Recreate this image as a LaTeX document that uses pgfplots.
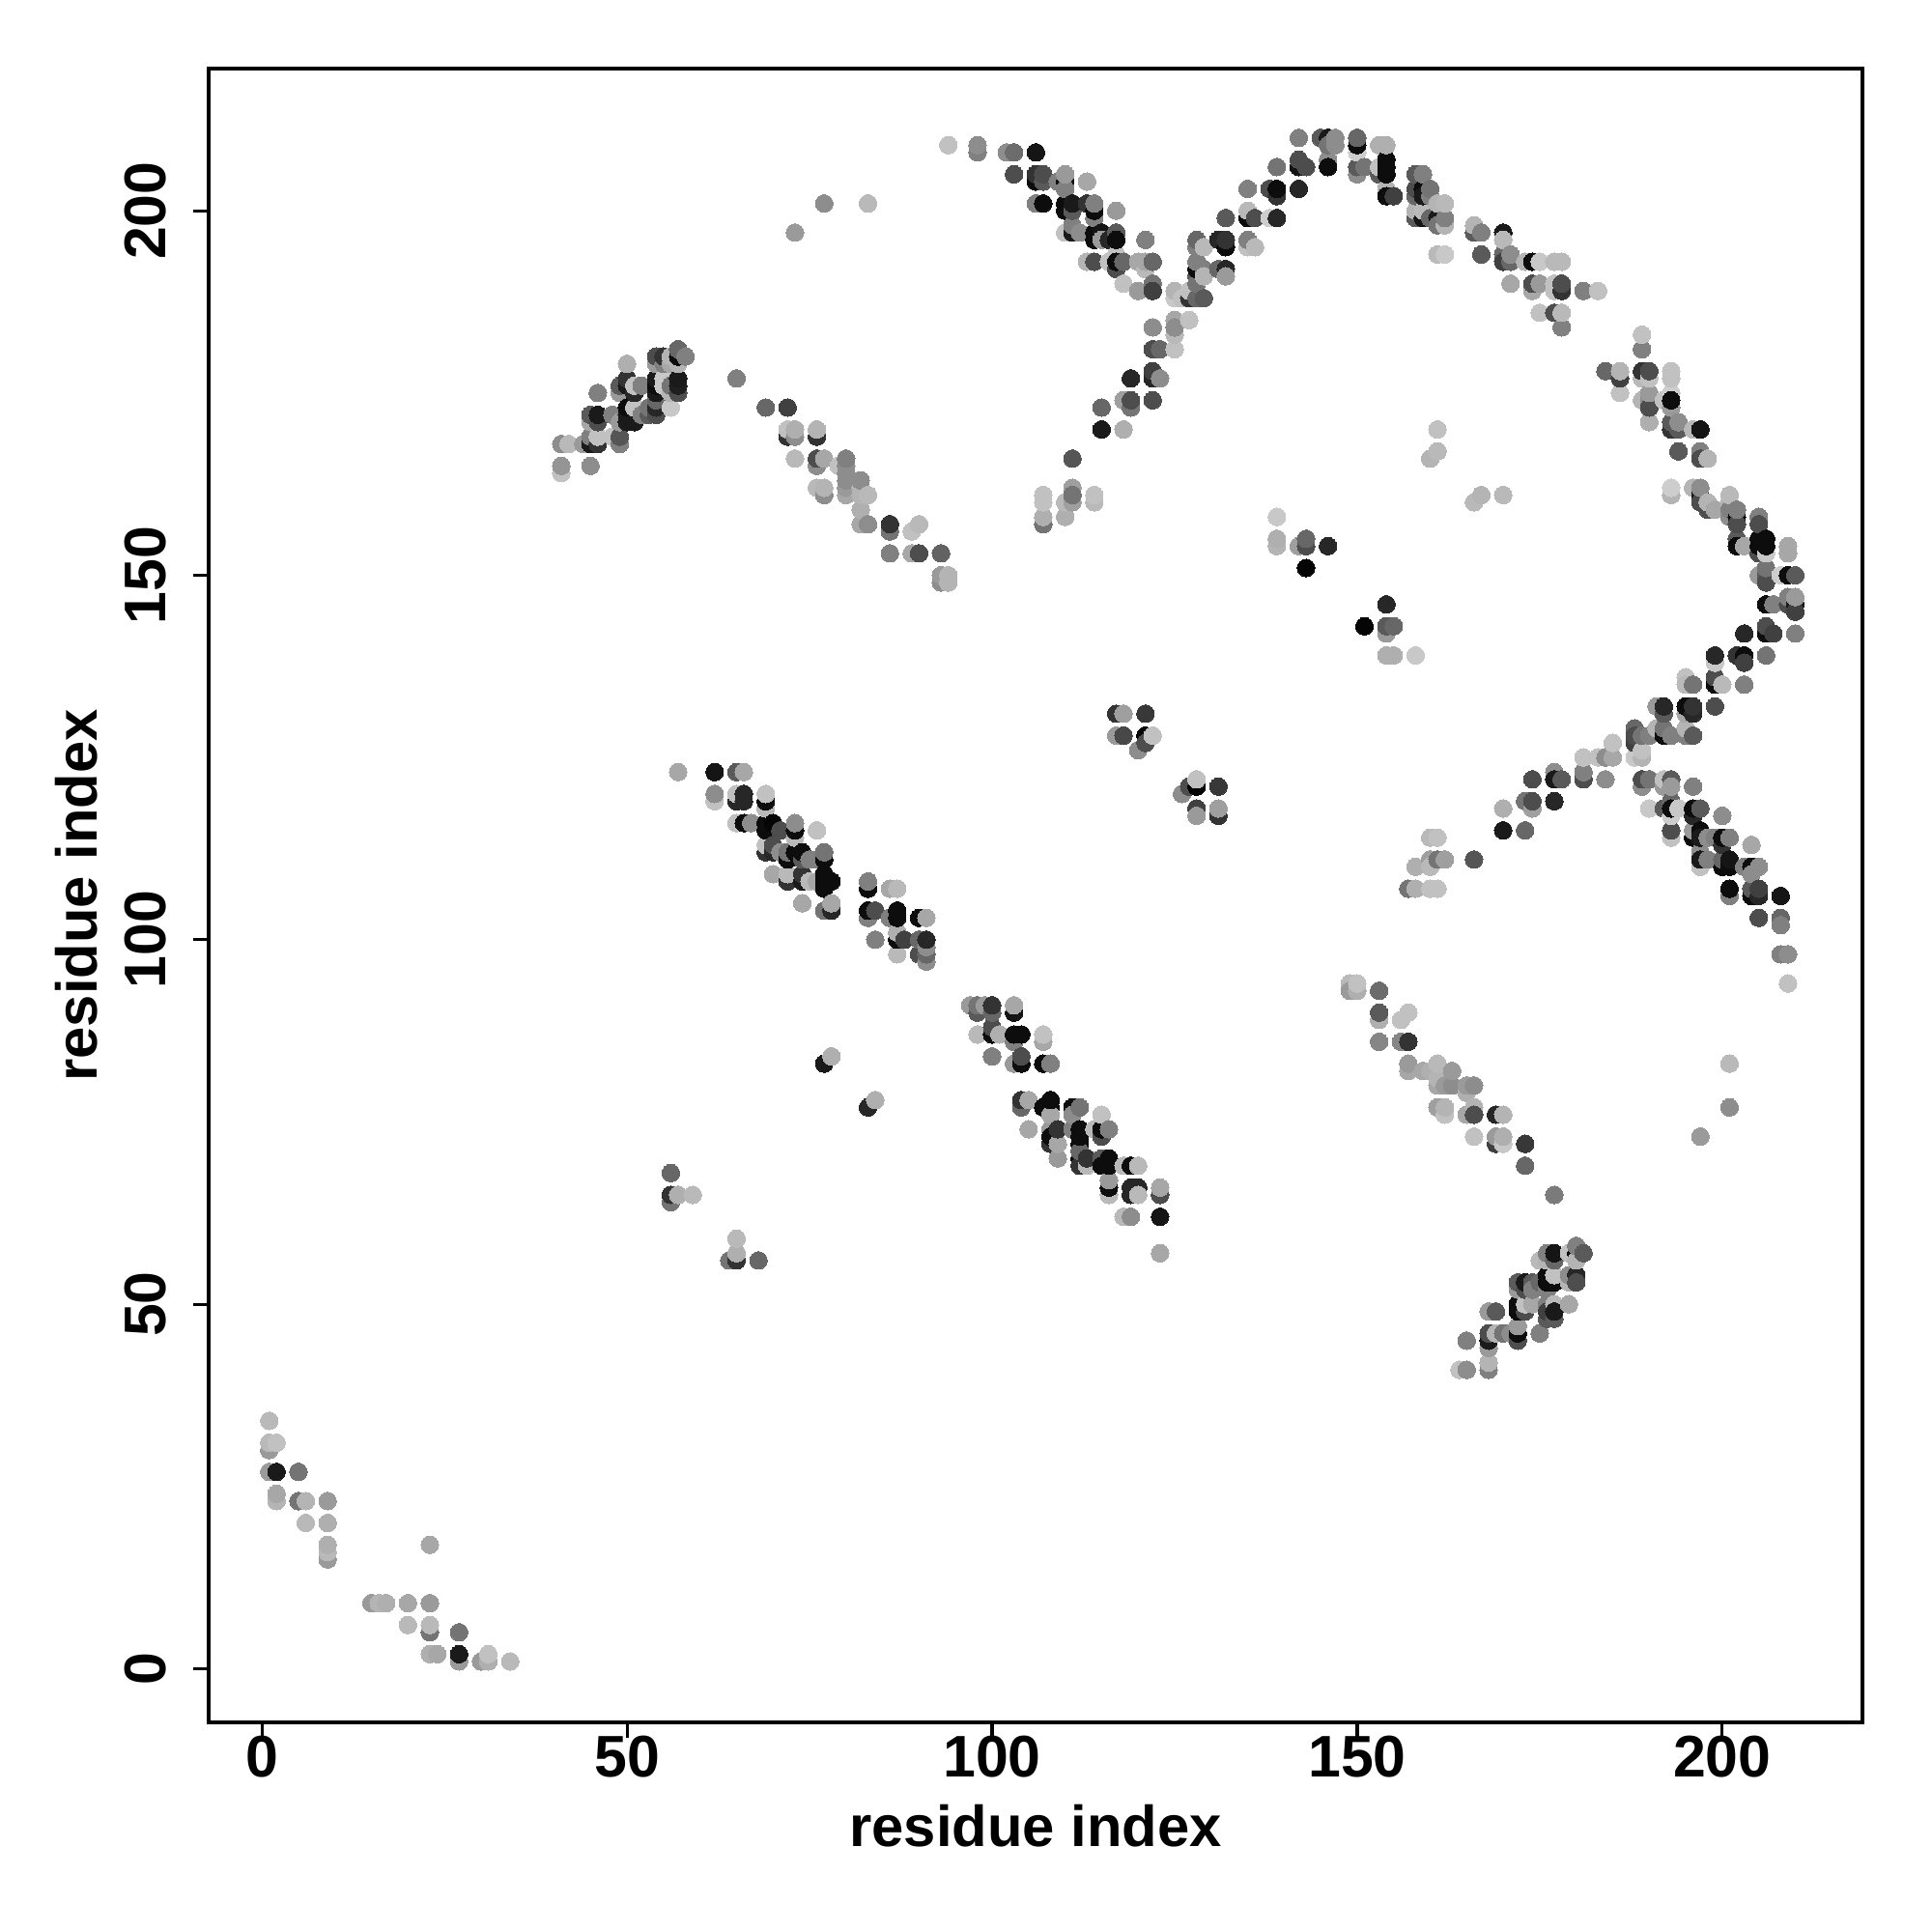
\documentclass[border=0pt]{standalone}
\usepackage{fontspec}
\setmainfont{Liberation Sans}
\usepackage{pgfplots}
\usepackage{pgfplotstable}
\pgfplotsset{compat=1.18}
\pgfplotstableread[row sep=crcr]{
x y g\\
1 34 .72\\ 1 31 .72\\ 2 31 .75\\ 1 30 .6\\ 1 27 .6\\ 2 27 .1\\ 5 27 .45\\ 2 23 .7\\ 2 24 .65\\ 5 23 .45\\ 6 23 .7\\ 9 23 .6\\
6 20 .72\\ 9 20 .68\\ 9 17 .68\\ 9 16 .72\\ 9 15 .6\\ 23 17 .65\\ 15 9 .6\\ 16 9 .7\\ 17 9 .68\\ 20 9 .65\\ 23 9 .6\\
20 6 .72\\ 23 6 .72\\ 23 5 .45\\ 27 5 .45\\ 23 2 .68\\ 24 2 .65\\ 27 2 .1\\ 27 1 .6\\ 30 1 .6\\ 31 1 .68\\ 31 2 .75\\ 34 1 .72\\
41 164 .75\\ 41 165 .58\\ 45 165 .55\\ 41 168 .55\\ 42 168 .72\\ 44 168 .6\\ 45 168 .1\\ 46 168 .2\\ 49 168 .5\\
45 169 .5\\ 46 169 .75\\ 48 169 .75\\ 49 169 .33\\
45 172 .35\\ 46 172 .1\\ 48 172 .5\\ 50 172 .1\\ 52 172 .5\\ 53 172 .35\\ 54 172 .3\\
45 171 .65\\ 46 171 .3\\ 49 171 .6\\ 50 171 .1\\ 51 171 .1\\
50 173 .05\\ 51 173 .75\\ 53 173 .45\\ 54 173 .15\\ 56 173 .78\\ 54 174 .4\\
46 175 .5\\ 49 175 .6\\ 51 175 .15\\ 54 175 .1\\ 56 175 .7\\ 57 175 .3\\
49 176 .35\\ 50 176 .1\\ 51 176 .75\\ 52 176 .5\\ 54 176 .05\\ 55 176 .78\\ 56 176 .45\\ 57 176 .12\\
50 177 .2\\ 54 177 .1\\ 55 177 .78\\ 57 177 .1\\
50 179 .68\\ 54 179 .6\\ 55 179 .5\\ 56 179 .65\\ 57 179 .7\\
54 180 .3\\ 55 180 .2\\ 56 180 .7\\ 57 180 .05\\ 58 180 .5\\ 57 181 .4\\
65 177 .5\\ 69 173 .4\\ 72 173 .25\\ 72 170 .75\\ 73 170 .68\\ 76 170 .7\\ 72 169 .2\\ 73 169 .55\\ 76 169 .2\\
73 166 .72\\ 76 166 .3\\ 77 166 .65\\ 80 166 .5\\ 76 165 .55\\ 79 165 .75\\ 80 165 .55\\ 80 164 .55\\ 80 163 .55\\ 82 163 .55\\
76 162 .72\\ 77 162 .7\\ 80 162 .6\\ 82 162 .7\\ 77 161 .55\\ 80 161 .65\\ 82 161 .7\\ 83 161 .72\\ 82 159 .68\\
82 157 .65\\ 83 157 .55\\ 86 157 .2\\ 90 157 .72\\ 86 156 .45\\ 89 156 .75\\ 86 153 .5\\ 89 153 .65\\ 90 153 .3\\ 93 153 .38\\
93 150 .6\\ 94 150 .7\\ 93 149 .55\\ 94 149 .7\\
57 123 .65\\ 62 123 .08\\ 65 123 .35\\ 66 123 .65\\ 62 120 .55\\ 62 119 .75\\ 65 120 .75\\ 65 119 .15\\ 66 120 .15\\ 66 119 .15\\
69 120 .75\\ 69 119 .05\\ 69 118 .72\\ 65 116 .75\\ 66 116 .05\\ 67 116 .55\\ 69 116 .05\\ 69 115 .05\\ 70 116 .02\\ 71 115 .3\\
73 116 .55\\ 73 115 .05\\ 73 114 .72\\ 76 115 .75\\ 69 113 .75\\ 69 112 .2\\ 70 113 .3\\ 70 112 .15\\ 71 112 .55\\ 72 112 .45\\
72 111 .05\\ 73 112 .05\\ 74 112 .05\\ 74 111 .35\\ 75 111 .5\\ 76 111 .5\\ 77 112 .45\\ 77 111 .05\\ 70 109 .65\\
72 109 .72\\ 72 108 .2\\ 74 109 .2\\ 74 108 .1\\ 75 108 .72\\ 76 108 .65\\ 77 109 .05\\ 77 108 .05\\ 78 108 .05\\ 77 107 .05\\
74 105 .65\\ 77 104 .45\\ 78 104 .15\\ 78 105 .65\\ 83 107 .05\\ 83 108 .5\\ 86 107 .65\\ 87 107 .72\\
83 104 .05\\ 84 104 .3\\ 83 103 .5\\ 86 103 .5\\ 87 104 .05\\ 87 103 .05\\ 90 103 .05\\ 91 103 .65\\
84 100 .5\\ 87 101 .68\\ 87 100 .05\\ 88 100 .25\\ 90 100 .4\\ 91 100 .15\\ 91 99 .55\\ 90 98 .3\\ 91 98 .4\\ 91 97 .55\\ 87 98 .72\\
97 91 .6\\ 98 91 .45\\ 99 91 .6\\ 100 91 .2\\ 103 91 .65\\ 98 90 .35\\ 100 90 .4\\ 103 90 .08\\ 98 87 .72\\ 100 88 .3\\ 100 87 .05\\
101 87 .68\\ 103 87 .05\\ 104 87 .05\\ 103 86 .5\\ 107 87 .75\\ 107 86 .65\\ 100 84 .5\\ 103 83 .6\\ 104 83 .05\\ 104 84 .3\\
107 83 .05\\ 108 83 .5\\ 104 78 .2\\ 104 77 .4\\ 105 78 .65\\ 107 77 .05\\ 108 78 .05\\ 108 77 .05\\ 108 76 .65\\ 111 77 .05\\
112 77 .45\\ 111 76 .55\\ 115 76 .75\\ 105 74 .65\\ 108 74 .6\\ 108 73 .05\\ 108 72 .2\\ 109 74 .2\\ 109 72 .65\\ 111 74 .5\\
112 74 .05\\ 112 73 .05\\ 112 72 .05\\ 114 74 .72\\ 115 74 .05\\ 116 74 .5\\ 115 73 .3\\ 109 70 .6\\ 112 71 .4\\ 112 70 .05\\
112 69 .2\\ 113 70 .2\\ 113 69 .72\\ 115 70 .35\\ 115 69 .05\\ 116 70 .05\\ 116 69 .05\\ 118 69 .72\\ 119 69 .05\\ 120 69 .72\\
116 67 .6\\ 116 66 .05\\ 116 65 .72\\ 119 66 .15\\ 119 65 .15\\ 120 66 .15\\ 120 65 .72\\ 123 66 .65\\ 123 65 .3\\
118 62 .72\\ 119 62 .55\\ 123 62 .08\\ 123 57 .65\\
94 209 .75\\ 98 208 .5\\ 98 209 .55\\ 102 208 .55\\ 103 208 .42\\ 106 208 .08\\ 103 205 .3\\ 106 205 .2\\ 106 204 .05\\ 107 205 .3\\ 107 204 .35\\
109 204 .5\\ 110 205 .6\\ 110 204 .05\\ 110 203 .5\\ 113 204 .65\\ 106 201 .5\\ 107 201 .05\\ 110 201 .05\\ 110 200 .05\\ 111 201 .1\\ 111 200 .35\\
113 201 .2\\ 114 201 .5\\ 114 200 .05\\ 114 199 .5\\ 117 200 .6\\ 110 197 .75\\ 111 198 .5\\ 111 197 .1\\ 112 197 .55\\
114 197 .05\\ 114 196 .05\\ 115 197 .08\\ 115 196 .6\\ 116 196 .15\\ 117 197 .35\\ 117 196 .05\\ 121 196 .5\\
113 193 .7\\ 114 193 .3\\ 116 193 .75\\ 117 194 .75\\ 117 193 .05\\ 117 192 .3\\ 118 193 .4\\ 120 193 .65\\ 121 193 .65\\ 121 192 .72\\ 122 193 .4\\
118 190 .75\\ 120 189 .6\\ 122 190 .45\\ 122 189 .25\\ 125 189 .7\\ 125 188 .78\\ 126 188 .75\\
128 196 .4\\ 128 195 .5\\ 129 195 .72\\ 131 196 .15\\ 132 196 .2\\ 132 195 .05\\ 132 199 .35\\
128 193 .5\\ 128 192 .05\\ 129 192 .5\\ 129 191 .7\\ 128 191 .35\\ 128 190 .45\\ 131 192 .4\\ 132 192 .15\\ 132 191 .6\\
127 188 .2\\ 128 188 .4\\ 129 188 .35\\ 127 189 .75\\ 122 184 .55\\ 125 185 .65\\ 125 184 .55\\ 127 185 .75\\ 125 183 .72\\ 122 181 .3\\ 123 181 .4\\ 125 181 .75\\
119 177 .15\\ 122 178 .25\\ 122 177 .15\\ 123 177 .55\\ 118 174 .62\\ 119 174 .3\\ 122 174 .3\\ 119 173 .45\\ 115 173 .4\\ 115 170 .1\\ 118 170 .68\\ 111 166 .33\\
107 161 .75\\ 107 160 .75\\ 107 158 .68\\ 107 157 .45\\ 110 160 .72\\ 110 158 .68\\ 111 162 .62\\ 111 161 .45\\ 111 160 .62\\ 114 161 .75\\ 114 160 .72\\
142 210 .5\\ 145 210 .35\\ 146 210 .1\\ 147 210 .55\\ 146 209 .45\\ 147 209 .55\\ 150 210 .4\\ 150 209 .05\\ 150 208 .8\\ 153 209 .68\\ 154 209 .68\\
142 207 .3\\ 142 206 .08\\ 143 206 .3\\ 146 207 .55\\ 146 206 .05\\ 139 206 .45\\ 150 206 .35\\ 150 205 .55\\ 151 206 .45\\ 153 206 .75\\ 154 207 .05\\ 154 206 .05\\ 154 205 .05\\ 153 205 .35\\
158 205 .35\\ 159 205 .5\\ 135 203 .5\\ 138 203 .3\\ 139 203 .05\\ 139 202 .2\\ 142 203 .15\\ 154 203 .7\\ 154 202 .05\\ 155 202 .25\\ 158 203 .3\\ 158 202 .4\\
159 203 .05\\ 159 202 .1\\ 160 203 .45\\ 160 202 .5\\ 161 201 .7\\ 162 201 .72\\ 135 200 .72\\ 135 199 .05\\ 136 199 .3\\ 138 199 .8\\ 139 199 .15\\
158 199 .35\\ 158 200 .7\\ 159 199 .08\\ 160 199 .4\\ 159 200 .72\\ 161 199 .1\\ 161 198 .45\\ 162 199 .5\\ 162 198 .7\\ 166 198 .7\\ 166 197 .35\\ 167 197 .5\\
170 197 .1\\ 170 196 .72\\ 135 196 .5\\ 135 195 .75\\ 136 195 .72\\ 161 194 .72\\ 162 194 .78\\ 167 194 .35\\ 170 194 .4\\ 170 193 .25\\ 171 194 .55\\ 171 193 .4\\
173 193 .7\\ 174 193 .05\\ 175 193 .78\\ 177 193 .72\\ 178 193 .72\\ 171 190 .65\\ 174 190 .3\\ 175 190 .6\\ 174 189 .65\\ 177 190 .75\\ 177 189 .75\\ 178 190 .3\\ 178 189 .2\\
181 189 .5\\ 183 189 .75\\ 175 186 .75\\ 177 186 .3\\ 178 186 .72\\ 178 184 .5\\
189 183 .75\\ 189 181 .5\\ 184 178 .4\\ 186 178 .7\\ 186 177 .25\\ 189 178 .2\\ 190 178 .3\\ 189 177 .72\\ 190 177 .75\\ 193 178 .75\\ 193 177 .75\\ 186 175 .75\\ 193 175 .8\\
189 174 .7\\ 190 175 .6\\ 190 174 .55\\ 190 173 .3\\ 192 174 .75\\ 193 174 .05\\ 193 173 .6\\ 190 171 .68\\ 193 171 .35\\ 193 170 .2\\ 194 171 .55\\ 194 170 .35\\ 196 170 .72\\ 197 170 .08\\
194 167 .35\\ 197 167 .5\\ 197 166 .3\\ 198 166 .7\\ 193 162 .8\\ 193 161 .7\\ 196 162 .7\\ 197 162 .55\\ 197 161 .1\\ 197 160 .3\\ 198 159 .3\\ 198 160 .7\\ 199 159 .65\\
201 161 .72\\ 201 160 .7\\ 201 159 .5\\ 201 158 .55\\ 202 159 .5\\ 202 158 .05\\ 202 157 .3\\ 205 158 .5\\ 205 157 .3\\ 202 155 .35\\ 202 154 .05\\ 203 154 .65\\ 205 155 .05\\ 206 155 .05\\
205 154 .05\\ 206 154 .05\\ 205 153 .3\\ 206 153 .78\\ 209 154 .65\\ 209 153 .65\\ 205 150 .6\\ 206 151 .45\\ 206 150 .35\\ 206 149 .3\\ 208 150 .8\\ 209 150 .05\\ 210 150 .35\\
209 147 .5\\ 210 147 .6\\ 210 146 .1\\ 210 145 .25\\ 209 146 .3\\ 206 146 .05\\ 207 146 .5\\ 210 142 .5\\ 203 142 .15\\ 206 143 .3\\ 206 142 .05\\ 207 142 .25\\
199 139 .15\\ 199 138 .78\\ 202 139 .2\\ 203 139 .05\\ 203 138 .25\\ 206 139 .45\\ 195 136 .75\\ 195 135 .72\\ 196 135 .45\\ 199 136 .3\\ 199 135 .05\\ 200 135 .72\\ 203 135 .5\\
191 132 .6\\ 192 132 .15\\ 192 131 .35\\ 195 132 .05\\ 195 131 .65\\ 196 132 .2\\ 196 131 .15\\ 199 132 .3\\ 188 129 .4\\ 188 128 .3\\ 188 127 .25\\ 189 128 .45\\ 190 128 .5\\
191 129 .7\\ 192 129 .45\\ 192 128 .05\\ 193 128 .5\\ 195 129 .7\\ 195 128 .5\\ 196 128 .35\\ 185 127 .75\\ 181 125 .75\\ 183 125 .75\\ 184 125 .55\\ 185 125 .65\\ 188 125 .78\\ 189 125 .7\\ 189 126 .75\\
177 123 .55\\ 177 122 .1\\ 178 122 .35\\ 181 123 .5\\ 181 122 .3\\ 184 122 .55\\ 177 119 .15\\ 189 122 .3\\ 190 122 .45\\ 189 121 .55\\ 192 122 .75\\ 193 122 .35\\ 193 121 .6\\ 192 121 .6\\
196 121 .5\\ 190 118 .78\\ 192 118 .35\\ 193 119 .4\\ 193 118 .05\\ 193 117 .8\\ 194 118 .78\\ 196 118 .05\\ 197 118 .35\\ 196 117 .15\\ 200 117 .55\\
193 115 .3\\ 193 114 .75\\ 196 115 .6\\ 196 114 .05\\ 197 115 .05\\ 197 114 .1\\ 198 114 .55\\ 199 114 .5\\ 200 114 .05\\ 201 114 .5\\ 200 113 .2\\ 204 113 .65\\
197 112 .55\\ 197 111 .1\\ 197 110 .75\\ 198 111 .5\\ 200 111 .4\\ 200 110 .05\\ 201 111 .08\\ 201 110 .05\\ 203 110 .5\\ 204 110 .05\\ 205 110 .55\\ 204 109 .55\\
201 107 .05\\ 201 106 .5\\ 204 107 .35\\ 204 106 .05\\ 205 107 .25\\ 205 106 .15\\ 208 106 .08\\ 205 103 .3\\ 208 103 .4\\ 208 102 .5\\ 208 98 .5\\ 209 98 .55\\ 209 94 .75\\
175 56 .72\\ 176 57 .5\\ 177 57 .08\\ 177 56 .4\\ 176 56 .7\\ 180 58 .5\\ 179 57 .75\\ 180 57 .05\\ 181 57 .35\\ 180 56 .7\\
172 53 .35\\ 173 53 .1\\ 174 53 .35\\ 175 53 .4\\ 172 52 .6\\ 173 52 .3\\ 174 52 .5\\ 176 54 .05\\ 176 53 .05\\ 177 54 .75\\ 177 53 .05\\ 176 52 .5\\
179 54 .55\\ 180 54 .15\\ 179 53 .7\\ 180 53 .3\\ 179 50 .65\\ 176 50 .5\\ 176 49 .25\\ 177 50 .72\\ 177 49 .1\\ 176 48 .35\\ 177 48 .35\\
172 50 .05\\ 172 49 .05\\ 173 50 .75\\ 174 50 .65\\ 173 49 .3\\ 175 46 .5\\ 168 49 .6\\ 169 49 .35\\ 172 47 .6\\ 172 46 .05\\ 172 45 .3\\ 171 46 .55\\
168 46 .3\\ 168 45 .1\\ 169 46 .7\\ 170 46 .45\\ 168 44 .6\\ 165 45 .5\\ 168 42 .7\\ 168 41 .5\\ 164 41 .75\\ 165 41 .55\\
139 158 .78\\ 139 155 .68\\ 139 154 .7\\ 142 154 .62\\ 143 155 .4\\ 143 154 .3\\ 146 154 .15\\ 143 151 .02\\ 154 146 .15\\ 151 143 .02\\ 154 143 .35\\ 155 143 .4\\ 154 142 .6\\ 154 139 .68\\ 155 139 .68\\ 158 139 .78\\
117 131 .2\\ 118 131 .62\\ 121 131 .22\\ 117 128 .6\\ 118 128 .28\\ 121 128 .02\\ 122 128 .75\\ 121 127 .3\\ 120 126 .55\\
126 120 .55\\ 127 121 .3\\ 128 122 .75\\ 128 121 .02\\ 131 121 .22\\ 128 118 .25\\ 128 117 .6\\ 131 118 .62\\ 131 117 .2\\
160 114 .72\\ 161 114 .75\\ 160 111 .62\\ 161 111 .45\\ 162 111 .62\\ 158 110 .68\\ 160 110 .72\\ 166 111 .33\\ 157 107 .45\\ 158 107 .68\\ 160 107 .75\\ 161 107 .75\\
170 115 .1\\ 173 115 .4\\ 170 118 .68\\ 173 119 .45\\ 174 119 .3\\ 174 118 .62\\ 174 122 .3\\
149 94 .72\\ 149 93 .6\\ 150 94 .75\\ 150 93 .68\\ 153 93 .42\\ 153 90 .35\\ 153 89 .68\\ 156 89 .75\\ 157 90 .75\\ 153 86 .52\\ 156 86 .52\\ 157 86 .2\\
157 83 .6\\ 157 82 .65\\ 159 82 .65\\ 160 82 .68\\ 161 83 .72\\ 161 81 .7\\ 163 82 .6\\ 161 80 .65\\ 162 80 .6\\ 163 80 .55\\ 165 80 .6\\ 166 80 .55\\ 165 79 .68\\
161 77 .62\\ 162 77 .7\\ 162 76 .75\\ 165 76 .65\\ 166 77 .7\\ 166 76 .3\\ 169 76 .15\\ 170 76 .7\\ 166 73 .75\\ 169 73 .6\\ 169 72 .25\\ 170 73 .68\\ 170 72 .78\\ 173 72 .22\\ 173 69 .4\\ 177 65 .48\\
56 68 .4\\ 56 65 .2\\ 56 64 .45\\ 57 65 .68\\ 59 65 .72\\ 64 56 .45\\ 65 56 .2\\ 65 57 .68\\ 65 59 .72\\ 68 56 .4\\
77 83 .1\\ 78 84 .68\\ 83 77 .15\\ 84 78 .68\\ 73 197 .6\\ 77 201 .55\\ 83 201 .72\\ 197 73 .6\\ 201 77 .55\\ 201 83 .72\\
161 170 .75\\ 161 167 .72\\ 160 166 .7\\ 166 160 .72\\ 167 161 .7\\ 170 161 .72\\
}\rawtable
\pgfplotstablecreatecol[create col/expr={\thisrow{x}*1000+\thisrow{y}}]{key}\rawtable
\pgfplotstablesort[sort key=key,sort cmp=float <]\sortedtable\rawtable
\pgfplotsset{colormap={bwmap}{gray(0cm)=(0);gray(1cm)=(1)}}
\begin{document}
\begin{tikzpicture}
\path[use as bounding box] (-2.16,-2.17) rectangle (17.84,17.83);
\begin{axis}[
  anchor=south west, at={(0,0)},
  scale only axis, width=17.12cm, height=17.12cm,
  xmin=-7.3, xmax=219.2, ymin=-7.36, ymax=219.5,
  xtick={0,50,100,150,200}, ytick={0,50,100,150,200},
  xtick pos=bottom, ytick pos=left, tick align=outside,
  major tick length=0.16cm,
  axis line style={line width=0.032cm, black},
  every tick/.style={line width=0.032cm, black},
  /pgf/number format/assume math mode=true,
  ticklabel style={font=\fontsize{17.3}{20}\selectfont\bfseries},
  xlabel={residue index}, ylabel={residue index},
  label style={font=\fontsize{17}{20}\selectfont\bfseries},
  x tick label style={yshift=0.14cm},
  y tick label style={rotate=90, anchor=south, yshift=0.15cm},
  xlabel style={at={(axis description cs:0.5,0)},anchor=center,yshift=-1.07cm},
  ylabel style={at={(axis description cs:0,0.5)},anchor=center,rotate=0,yshift=1.37cm},
  colormap name=bwmap, point meta min=0, point meta max=1,
  clip=false,
]
\addplot[scatter, only marks, mark=*, mark size=2.6pt, point meta=explicit,
  mark options={line width=0pt},
  scatter/use mapped color={draw=mapped color, fill=mapped color}]
  table[x=x, y=y, meta=g] {\sortedtable};
\end{axis}
\end{tikzpicture}
\end{document}
